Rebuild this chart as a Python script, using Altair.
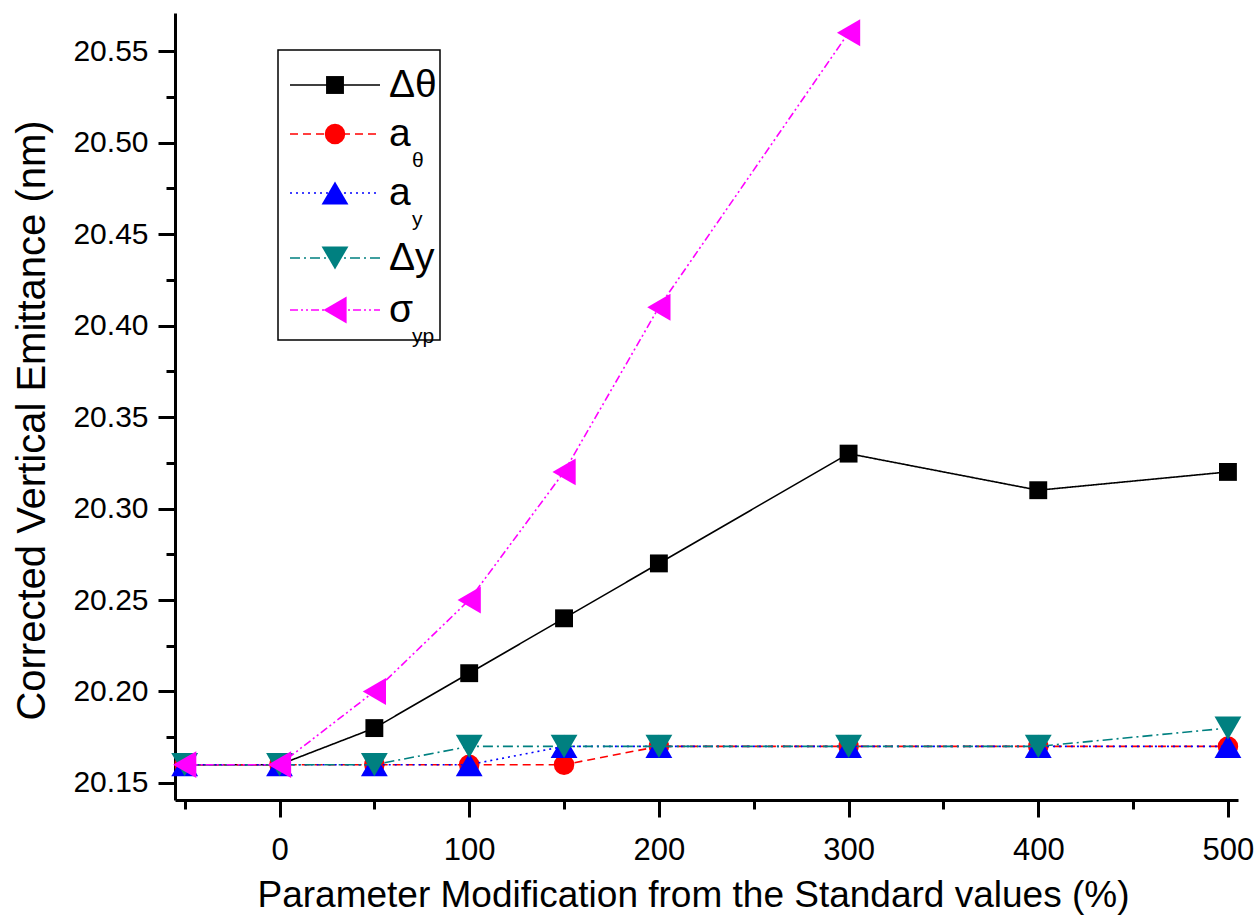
import altair as alt
import pandas as pd

# Parameter modification (%) and corrected vertical emittance (nm) per parameter
x_pct = [-50, 0, 50, 100, 150, 200, 300, 400, 500]
x_sigma = [-50, 0, 50, 100, 150, 200, 300]

delta_theta = [20.16, 20.16, 20.18, 20.21, 20.24, 20.27, 20.33, 20.31, 20.32]
a_theta = [20.16, 20.16, 20.16, 20.16, 20.16, 20.17, 20.17, 20.17, 20.17]
a_y = [20.16, 20.16, 20.16, 20.16, 20.17, 20.17, 20.17, 20.17, 20.17]
delta_y = [20.16, 20.16, 20.16, 20.17, 20.17, 20.17, 20.17, 20.17, 20.18]
sigma_yp = [20.16, 20.16, 20.20, 20.25, 20.32, 20.41, 20.56]

keys = ["dtheta", "atheta", "ay", "dy", "sigyp"]
label_main = ["Δθ", "a", "a", "Δy", "σ"]
label_sub = ["", "θ", "y", "", "yp"]
colors = ["#000000", "#ff0000", "#0000ff", "#008080", "#ff00ff"]
shapes = ["square", "circle", "triangle-up", "triangle-down", "triangle-left"]
dashes = [[1, 0], [8, 5], [2, 4], [10, 4, 2, 4], [8, 3, 2, 3, 2, 3]]
sizes = [320, 420, 720, 720, 720]
# vertical position (px inside the plot area) of each legend row
legend_rows = [72, 121, 180, 245, 297]

xs = [x_pct, x_pct, x_pct, x_pct, x_sigma]
ys = [delta_theta, a_theta, a_y, delta_y, sigma_yp]

rows = []
for k, xv, yv in zip(keys, xs, ys):
    for a, b in zip(xv, yv):
        rows.append({"series": k, "pct": a, "emit": b})
df = pd.DataFrame(rows)

FONT = "Liberation Sans"

x_enc = alt.X(
    "pct:Q",
    scale=alt.Scale(domain=[-55.1, 505.3], nice=False, zero=False),
    axis=alt.Axis(
        title="Parameter Modification from the Standard values (%)",
        values=list(range(-50, 501, 50)),
        labelExpr="datum.value % 100 == 0 ? datum.label : ''",
        tickSize={"condition": {"test": "datum.value % 100 == 0", "value": 17}, "value": 9},
        labelOverlap=False,
        labelFont=FONT,
        labelFontSize=31,
        labelPadding=18,
        titleFont=FONT,
        titleFontSize=37,
        titleFontWeight="normal",
        titlePadding=12,
        titleX=518,
    ),
)

y_major = "abs(datum.value * 20 - round(datum.value * 20)) < 0.001"
y_enc = alt.Y(
    "emit:Q",
    scale=alt.Scale(domain=[20.1407, 20.5708], nice=False, zero=False),
    axis=alt.Axis(
        title="Corrected Vertical Emittance (nm)",
        values=[round(20.15 + 0.025 * i, 3) for i in range(17)],
        labelExpr=f"{y_major} ? format(datum.value, '.2f') : ''",
        tickSize={"condition": {"test": y_major, "value": 17}, "value": 9},
        labelOverlap=False,
        labelFont=FONT,
        labelFontSize=30,
        labelPadding=10,
        titleFont=FONT,
        titleFontSize=40,
        titleFontWeight="normal",
        titlePadding=20,
        titleY=407,
    ),
)

layers = []
for k, c, sh, d, s in zip(keys, colors, shapes, dashes, sizes):
    base = alt.Chart(df).transform_filter(alt.datum.series == k)
    layers.append(
        base.mark_line(color=c, strokeDash=d, strokeWidth=1.6).encode(x=x_enc, y=y_enc)
    )
    layers.append(
        base.mark_point(shape=sh, filled=True, color=c, size=s, opacity=1).encode(
            x=x_enc, y=y_enc
        )
    )

# Legend box drawn by hand so the subscripts can be set
leg = pd.DataFrame(
    {
        "series": keys,
        "main": label_main,
        "sub": label_sub,
        "py": legend_rows,
        "col": colors,
        "shp": shapes,
        "sz": sizes,
    }
)
leg_base = alt.Chart(leg)
frame = alt.Chart(pd.DataFrame({"f": [0]})).mark_rect(
    fillOpacity=0, stroke="black", strokeWidth=1.5
).encode(x=alt.value(103), x2=alt.value(265), y=alt.value(37), y2=alt.value(327))
leg_lines = leg_base.mark_rule(strokeWidth=1.6).encode(
    x=alt.value(115),
    x2=alt.value(205),
    y=alt.Y("py:Q", scale=None),
    color=alt.Color("col:N", scale=None),
    strokeDash=alt.StrokeDash(
        "series:N", scale=alt.Scale(domain=keys, range=dashes), legend=None
    ),
)
leg_pts = leg_base.mark_point(filled=True, opacity=1).encode(
    x=alt.value(160),
    y=alt.Y("py:Q", scale=None),
    color=alt.Color("col:N", scale=None),
    shape=alt.Shape("shp:N", scale=None),
    size=alt.Size("sz:Q", scale=None),
)
leg_main = leg_base.mark_text(
    align="left", baseline="middle", font=FONT, fontSize=39, color="black"
).encode(x=alt.value(214), y=alt.Y("py:Q", scale=None), text="main:N")
leg_sub = leg_base.transform_calculate(sy="datum.py + 27").mark_text(
    align="left", baseline="middle", font=FONT, fontSize=21, color="black"
).encode(x=alt.value(237), y=alt.Y("sy:Q", scale=None), text="sub:N")

chart = (
    alt.layer(*layers, frame, leg_lines, leg_pts, leg_main, leg_sub)
    .properties(
        width=1063,
        height=787,
        padding={"left": 175, "top": 13, "right": 20, "bottom": 118},
        autosize=alt.AutoSizeParams(type="none"),
        background="white",
    )
    .configure_view(stroke=None)
    .configure_axis(
        grid=False,
        domainColor="black",
        domainWidth=3,
        tickColor="black",
        tickWidth=3,
        labelColor="black",
        titleColor="black",
    )
)

chart.save("out.html", embed_options={"renderer": "svg", "actions": False})
